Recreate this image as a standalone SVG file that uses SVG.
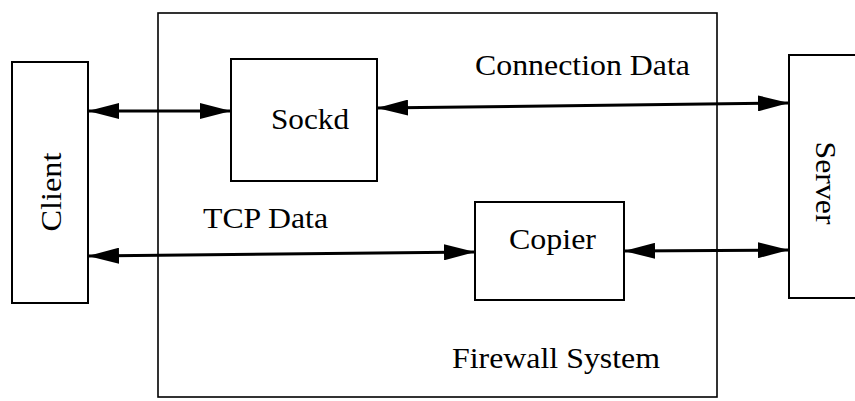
<svg xmlns="http://www.w3.org/2000/svg" width="855" height="401" viewBox="0 0 855 401">
  <style>
    .box { fill: #fff; stroke: #000; stroke-width: 2; }
    .frame { fill: none; stroke: #000; stroke-width: 1.6; }
    .lbl { font-family: "Liberation Serif", "DejaVu Serif", serif; font-size: 30px; fill: #000; }
    .link { stroke: #000; stroke-width: 3; fill: none; marker-start: url(#head); marker-end: url(#head); }
  </style>
  <defs>
    <marker id="head" viewBox="0 0 31 16" refX="31" refY="8" markerWidth="31" markerHeight="16" markerUnits="userSpaceOnUse" orient="auto-start-reverse">
      <path d="M0,0 L31,8 L0,16 Z" fill="#000"/>
    </marker>
  </defs>
  <rect width="855" height="401" fill="#fff"/>

  <!-- firewall enclosure -->
  <g id="firewall">
    <rect class="frame" x="158" y="13" width="559" height="384"/>
    <text class="lbl" x="452" y="368" textLength="208" lengthAdjust="spacingAndGlyphs">Firewall System</text>
  </g>

  <g id="client">
    <rect class="box" x="12" y="62" width="76" height="241"/>
    <text class="lbl" transform="translate(61,192) rotate(-90)" text-anchor="middle" textLength="79" lengthAdjust="spacingAndGlyphs">Client</text>
  </g>

  <g id="sockd">
    <rect class="box" x="231" y="59" width="146" height="122"/>
    <text class="lbl" x="271" y="129" textLength="78" lengthAdjust="spacingAndGlyphs">Sockd</text>
  </g>

  <g id="copier">
    <rect class="box" x="475" y="202" width="149" height="98"/>
    <text class="lbl" x="509" y="249" textLength="87" lengthAdjust="spacingAndGlyphs">Copier</text>
  </g>

  <g id="server">
    <rect class="box" x="789" y="55" width="70" height="243"/>
    <text class="lbl" transform="translate(816,183) rotate(90)" text-anchor="middle" textLength="83" lengthAdjust="spacingAndGlyphs">Server</text>
  </g>

  <!-- connectors -->
  <g id="connectors">
    <line class="link" x1="88" y1="111" x2="231" y2="111"/>
    <line class="link" x1="377" y1="108" x2="789" y2="103"/>
    <line class="link" x1="88" y1="256" x2="475" y2="252"/>
    <line class="link" x1="624" y1="251" x2="789" y2="250"/>
    <text class="lbl" x="475" y="75" textLength="215" lengthAdjust="spacingAndGlyphs">Connection Data</text>
    <text class="lbl" x="203" y="228" textLength="125" lengthAdjust="spacingAndGlyphs">TCP Data</text>
  </g>
</svg>
